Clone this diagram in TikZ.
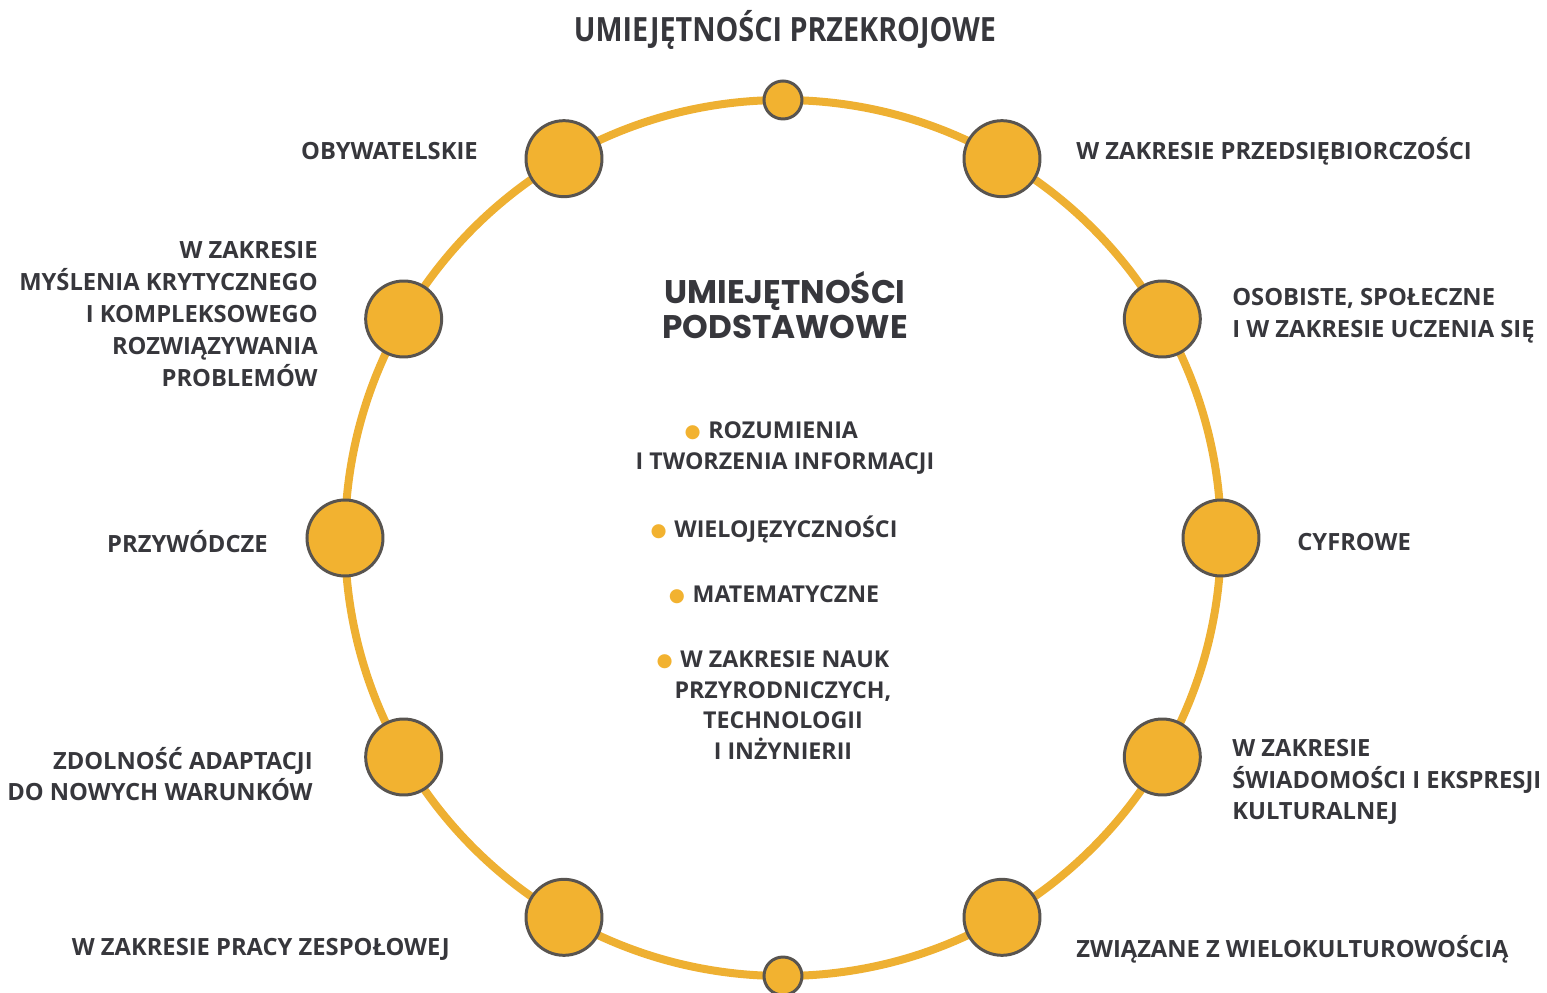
\documentclass[tikz,border=0pt]{standalone}
\usepackage{fontspec}
\setmainfont{Open Sans}
\newfontfamily\crossfont[FakeStretch=0.86]{Open Sans}
\newfontfamily\titlefont{Poppins}
\newfontfamily\dotfont{DejaVu Sans}
\definecolor{ringgold}{RGB}{238,176,50}
\definecolor{dotgold}{RGB}{242,178,48}
\definecolor{rimgray}{RGB}{88,84,80}
\definecolor{txtgray}{RGB}{55,55,60}
\newcommand{\golddot}{{\color{dotgold}\dotfont\fontsize{10.5}{10.5}\selectfont\raisebox{0.5pt}{●}}\,\,}

\begin{document}
\begin{tikzpicture}[
    big/.style={circle,draw=rimgray,fill=dotgold,line width=1.7pt,minimum size=1.52cm,inner sep=0pt},
    small/.style={big,minimum size=0.76cm},
    lbl/.style={text=txtgray,font={\bfseries\fontsize{13.5}{18.1}\selectfont},inner sep=0pt},
    core/.style={lbl,align=center,font={\bfseries\fontsize{13.2}{17.4}\selectfont}}]
    \useasboundingbox (-15.66,-9.10) rectangle (15.28,10.76);
    % the ring and its stops
    \draw[ringgold,line width=0.16cm] (0,0) circle (8.76cm);
    \foreach \a in {0,30,60,120,150,180,210,240,300,330}
        \node[big] (c\a) at (\a:8.76) {};
    \node[small] (ctop) at (90:8.76) {};
    \node[small] (cbot) at (270:8.76) {};
    % titles
    \node[lbl,font={\crossfont\bfseries\fontsize{19}{22}\selectfont}] (cross) at (0.04,10.16) {UMIEJĘTNOŚCI PRZEKROJOWE};
    \node[text=txtgray,align=center,inner sep=0pt,font={\titlefont\bfseries\fontsize{18.6}{19.9}\selectfont}] (basic) at (0.04,4.66) {UMIEJĘTNOŚCI\\PODSTAWOWE};
    % basic skills
    \node[core] (read) at (0.04,1.80) {\golddot ROZUMIENIA\hspace*{0.55cm}\\I TWORZENIA INFORMACJI};
    \node[core] (lang) at (-0.18,0.18) {\golddot WIELOJĘZYCZNOŚCI};
    \node[core] (math) at (-0.18,-1.14) {\golddot MATEMATYCZNE};
    \node[core] (sci) at (0.0,-3.34) {\golddot W ZAKRESIE NAUK\hspace*{0.4cm}\\PRZYRODNICZYCH,\\TECHNOLOGII\\I INŻYNIERII};
    % cross-cutting skills, left side
    \node[lbl,anchor=east] (civic) at (-6.10,7.74) {OBYWATELSKIE};
    \node[lbl,anchor=east,align=right] (crit) at (-9.30,4.48) {W ZAKRESIE\\MYŚLENIA KRYTYCZNEGO\\I KOMPLEKSOWEGO\\ROZWIĄZYWANIA\\PROBLEMÓW};
    \node[lbl,anchor=east] (lead) at (-10.30,-0.08) {PRZYWÓDCZE};
    \node[lbl,anchor=east,align=right] (adapt) at (-9.40,-4.72) {ZDOLNOŚĆ ADAPTACJI\\DO NOWYCH WARUNKÓW};
    \node[lbl,anchor=east] (team) at (-6.66,-8.22) {W ZAKRESIE PRACY ZESPOŁOWEJ};
    % cross-cutting skills, right side
    \node[lbl,anchor=west] (entre) at (5.86,7.74) {W ZAKRESIE PRZEDSIĘBIORCZOŚCI};
    \node[lbl,anchor=west,align=left] (pers) at (8.98,4.44) {OSOBISTE, SPOŁECZNE\\I W ZAKRESIE UCZENIA SIĘ};
    \node[lbl,anchor=west] (digit) at (10.28,-0.08) {CYFROWE};
    \node[lbl,anchor=west,align=left] (cult) at (8.98,-4.88) {W ZAKRESIE\\ŚWIADOMOŚCI I EKSPRESJI\\KULTURALNEJ};
    \node[lbl,anchor=west] (multi) at (5.86,-8.22) {ZWIĄZANE Z WIELOKULTUROWOŚCIĄ};
\end{tikzpicture}
\end{document}
